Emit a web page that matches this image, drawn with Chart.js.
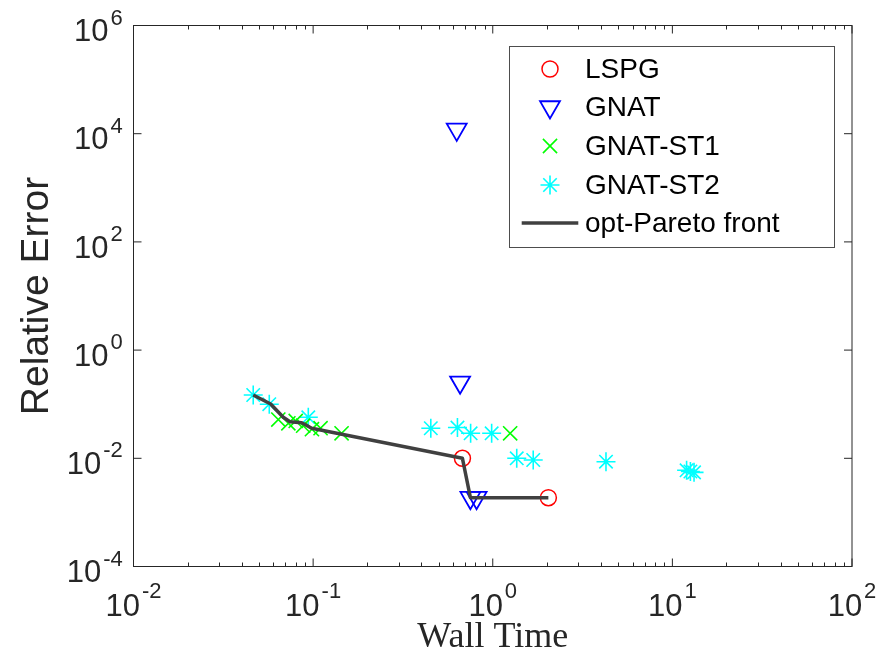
<!DOCTYPE html>
<html><head><meta charset="utf-8">
<script src="https://cdn.jsdelivr.net/npm/chart.js@4.4.1/dist/chart.umd.min.js"></script>
<style>html,body{margin:0;padding:0;background:#fff;}#wrap{width:892px;height:662px;}</style>
</head><body><div id="wrap"><canvas id="c" width="892" height="662"></canvas></div>
<script>
// ---- data ----
const lspgTime = [0.678, 2.04];
const lspgErr  = [0.0100, 0.00187];
const gnatTime = [0.63, 0.658, 0.751, 0.813];
const gnatErr  = [12000, 0.254, 0.00187, 0.00187];
const st1Time  = [0.064, 0.0728, 0.080, 0.088, 0.0985, 0.110, 0.144, 1.25];
const st1Err   = [0.052, 0.0444, 0.049, 0.040, 0.0345, 0.036, 0.029, 0.029];
const st2Time  = [0.0464, 0.057, 0.094, 0.452, 0.636, 0.753, 0.986, 1.36, 1.68, 4.27, 12.0, 12.6, 13.2];
const st2Err   = [0.148, 0.100, 0.0573, 0.0359, 0.037, 0.029, 0.029, 0.0100, 0.0093, 0.00866, 0.0060, 0.0057, 0.0055];
const paretoTime = [0.0464, 0.058, 0.0682, 0.0743, 0.0864, 0.0982, 0.678, 0.751, 2.04];
const paretoErr  = [0.148, 0.101, 0.0573, 0.0475, 0.0455, 0.0358, 0.0100, 0.00187, 0.00187];
const seriesNames = ['LSPG', 'GNAT', 'GNAT-ST1', 'GNAT-ST2', 'opt-Pareto front'];
const xTickExps = [-2, -1, 0, 1, 2];
const yTickExps = [-4, -2, 0, 2, 4, 6];
const xTitle = 'Wall Time';
const yTitle = 'Relative Error';

const pts = (xs, ys) => xs.map((x, i) => ({x: x, y: ys[i]}));

const styles = [
  {pointStyle: 'circle', radius: 8, rotation: 0, color: '#FF0000', borderWidth: 1.5},
  {pointStyle: 'triangle', radius: 11.5, rotation: 180, color: '#0000FF', borderWidth: 1.8},
  {pointStyle: 'crossRot', radius: 10, rotation: 0, color: '#00FF00', borderWidth: 1.6},
  {pointStyle: 'star', radius: 9.5, rotation: 0, color: '#00FFFF', borderWidth: 1.6}
];
const paretoColor = '#404040';
const axisColor = '#262626';

function scatterDs(i, data) {
  const s = styles[i];
  return {label: seriesNames[i], data: data, showLine: false,
    pointStyle: s.pointStyle, pointRadius: s.radius, pointRotation: s.rotation,
    pointBorderColor: s.color, pointBackgroundColor: 'rgba(0,0,0,0)', pointBorderWidth: s.borderWidth,
    pointHoverRadius: s.radius, borderColor: s.color, backgroundColor: 'rgba(0,0,0,0)', order: 1};
}

function drawMarker(ctx, s, x, y) {
  ctx.save();
  ctx.strokeStyle = s.color; ctx.fillStyle = 'rgba(0,0,0,0)'; ctx.lineWidth = s.borderWidth;
  if (Chart.helpers && Chart.helpers.drawPoint) {
    Chart.helpers.drawPoint(ctx, {pointStyle: s.pointStyle, radius: s.radius, rotation: s.rotation, borderWidth: s.borderWidth}, x, y);
  }
  ctx.restore();
}

const matlabAxes = {
  id: 'matlabAxes',
  afterDraw(chart) {
    const ctx = chart.ctx, a = chart.chartArea, xs = chart.scales.x, ys = chart.scales.y;
    ctx.save();
    ctx.strokeStyle = axisColor; ctx.lineWidth = 1;
    ctx.strokeRect(a.left, a.top, a.right - a.left, a.bottom - a.top);
    ctx.beginPath();
    xTickExps.forEach(e => {
      const px = xs.getPixelForValue(Math.pow(10, e));
      ctx.moveTo(px, a.bottom); ctx.lineTo(px, a.bottom - 8);
      ctx.moveTo(px, a.top); ctx.lineTo(px, a.top + 8);
    });
    for (let e = xTickExps[0]; e < xTickExps[xTickExps.length - 1]; e++) {
      for (let m = 2; m <= 9; m++) {
        const px = Math.round(xs.getPixelForValue(m * Math.pow(10, e))) + 0.5;
        ctx.moveTo(px, a.bottom); ctx.lineTo(px, a.bottom - 4);
        ctx.moveTo(px, a.top); ctx.lineTo(px, a.top + 4);
      }
    }
    yTickExps.forEach(e => {
      const py = ys.getPixelForValue(Math.pow(10, e));
      ctx.moveTo(a.left, py); ctx.lineTo(a.left + 8, py);
      ctx.moveTo(a.right, py); ctx.lineTo(a.right - 8, py);
    });
    ctx.stroke();

    const baseFont = '31px "Liberation Sans", Arial, sans-serif';
    const expFont = '22px "Liberation Sans", Arial, sans-serif';
    ctx.fillStyle = axisColor; ctx.textBaseline = 'alphabetic'; ctx.textAlign = 'left';
    function label(e) {
      ctx.font = baseFont; const wb = ctx.measureText('10').width;
      ctx.font = expFont; const we = ctx.measureText(String(e)).width;
      return {wb: wb, we: we, gap: 2, exp: String(e)};
    }
    xTickExps.forEach(e => {
      const px = xs.getPixelForValue(Math.pow(10, e));
      const L = label(e);
      const total = L.wb + L.gap + L.we;
      const x0 = px - total / 2;
      ctx.font = baseFont; ctx.fillText('10', x0, a.bottom + 49);
      ctx.font = expFont; ctx.fillText(L.exp, x0 + L.wb + L.gap, a.bottom + 31.5);
    });
    yTickExps.forEach(e => {
      const py = ys.getPixelForValue(Math.pow(10, e));
      const L = label(e);
      const right = a.left - 10.8;
      const x0 = right - (L.wb + L.gap + L.we);
      ctx.font = baseFont; ctx.fillText('10', x0, py + 15.7);
      ctx.font = expFont; ctx.fillText(L.exp, x0 + L.wb + L.gap, py - 1);
    });

    const bx = 509.5, by = 46.5, bw = 325, bh = 201;
    ctx.fillStyle = '#FFFFFF'; ctx.fillRect(bx, by, bw, bh);
    ctx.strokeStyle = '#4d4d4d'; ctx.lineWidth = 1; ctx.strokeRect(bx, by, bw, bh);
    const rowY = [69, 107, 146, 185, 223];
    ctx.font = '28px "Liberation Sans", Arial, sans-serif';
    ctx.textBaseline = 'middle'; ctx.textAlign = 'left';
    for (let i = 0; i < 4; i++) {
      drawMarker(ctx, styles[i], 550, rowY[i]);
    }
    ctx.strokeStyle = paretoColor; ctx.lineWidth = 3.5;
    ctx.beginPath(); ctx.moveTo(521.7, rowY[4]); ctx.lineTo(578.3, rowY[4]); ctx.stroke();
    ctx.fillStyle = '#000000';
    seriesNames.forEach((n, i) => ctx.fillText(n, 585, rowY[i] + 1));
    ctx.restore();
  }
};

new Chart(document.getElementById('c'), {
  type: 'scatter',
  data: {
    datasets: [
      scatterDs(0, pts(lspgTime, lspgErr)),
      scatterDs(1, pts(gnatTime, gnatErr)),
      scatterDs(2, pts(st1Time, st1Err)),
      scatterDs(3, pts(st2Time, st2Err)),
      {label: seriesNames[4], data: pts(paretoTime, paretoErr), showLine: true,
       borderColor: paretoColor, borderWidth: 3.5, pointRadius: 0, pointHoverRadius: 0,
       tension: 0, fill: false, order: 0, borderJoinStyle: 'round'}
    ]
  },
  options: {
    responsive: false, animation: false,
    layout: {padding: {top: 25.5, right: 40, left: 0, bottom: 0}},
    plugins: {legend: {display: false}, tooltip: {enabled: false}},
    scales: {
      x: {type: 'logarithmic', position: 'bottom', min: 1e-2, max: 1e2,
        grid: {display: false}, border: {display: false}, ticks: {display: false},
        afterBuildTicks: s => { s.ticks = xTickExps.map(e => ({value: Math.pow(10, e)})); },
        afterFit: s => { s.height = 95.5; },
        title: {display: true, text: xTitle, color: axisColor,
          font: {family: '"Liberation Serif", "Times New Roman", serif', size: 36, weight: 'normal'},
          padding: {top: 0, bottom: 3}}
      },
      y: {type: 'logarithmic', position: 'left', min: 1e-4, max: 1e6,
        grid: {display: false}, border: {display: false}, ticks: {display: false},
        afterBuildTicks: s => { s.ticks = yTickExps.map(e => ({value: Math.pow(10, e)})); },
        afterFit: s => { s.width = 133.5; },
        title: {display: true, text: yTitle, color: axisColor,
          font: {family: '"Liberation Sans", Arial, sans-serif', size: 39, weight: 'normal'},
          padding: {top: 14, bottom: 0}}
      }
    }
  },
  plugins: [matlabAxes]
});
</script>
</body></html>
